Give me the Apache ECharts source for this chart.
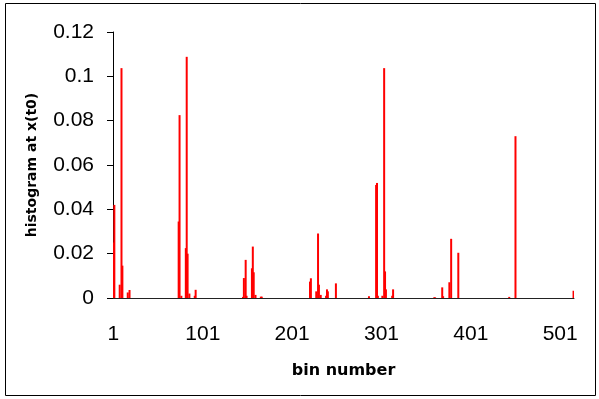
<!DOCTYPE html>
<html>
<head>
<meta charset="utf-8">
<script src="https://cdn.jsdelivr.net/npm/echarts@6/dist/echarts.min.js"></script>
<style>
    html, body { margin: 0; padding: 0; background: #fff; }
    #histCharts { width: 599px; height: 399px; }
</style>
</head>
<body>
<div id="histCharts"></div>
<script>
    // histogram at x(t0); bins not listed are 0
    const binCount = 516
    const spikeBins = [1, 2, 8, 10, 11, 17, 19,
        74, 75, 77, 82, 83, 84, 86, 92, 93,
        146, 147, 149, 150, 156, 157, 158, 160, 166, 167,
        221, 222, 228, 230, 231, 233, 239, 240, 241, 250,
        287, 295, 296, 297, 302, 304, 305, 306, 313, 314,
        360, 361, 369, 370, 377, 379, 387,
        444, 451, 516]
    const spikeValues = [0.025, 0.042, 0.006, 0.1037, 0.0146, 0.0025, 0.0036,
        0.0345, 0.0825, 0.001, 0.0225, 0.1088, 0.020, 0.002, 0.001, 0.0037,
        0.0005, 0.009, 0.0172, 0.001, 0.0134, 0.0232, 0.0116, 0.0014, 0.0006, 0.0006,
        0.0074, 0.0089, 0.003, 0.0291, 0.006, 0.0014, 0.001, 0.0039, 0.003, 0.0066,
        0.0008, 0.051, 0.0519, 0.001, 0.001, 0.1037, 0.012, 0.0039, 0.001, 0.0039,
        0.0003, 0.0003, 0.0048, 0.0008, 0.0071, 0.0267, 0.0204,
        0.0005, 0.073, 0.0033]
    const yTicks = [0, 0.02, 0.04, 0.06, 0.08, 0.1, 0.12]

    const bins = []
    const counts = []
    for (let i = 1; i <= binCount; i++) {
        bins.push(String(i))
        counts.push(0)
    }
    spikeBins.forEach((b, k) => { counts[b - 1] = spikeValues[k] })

    const _histCharts = {
        animation: false,
        grid: {
            left: 113,
            right: 25,
            top: 32,
            bottom: 101,
        },
        xAxis: {
            type: 'category',
            data: bins,
            name: 'bin number',
            nameLocation: 'middle',
            nameGap: 65,
            nameTextStyle: {
                fontFamily: 'DejaVu Sans',
                fontWeight: 'bold',
                fontSize: 16,
                color: '#000'
            },
            axisLine: {
                lineStyle: { color: '#222', width: 1 }
            },
            axisTick: { show: false },
            axisLabel: {
                interval: 99,
                margin: 26,
                fontFamily: 'Liberation Sans',
                fontSize: 21,
                color: '#000'
            },
        },
        yAxis: {
            type: 'value',
            min: yTicks[0],
            max: yTicks[yTicks.length - 1],
            interval: 0.02,
            name: 'histogram at x(t0)',
            nameLocation: 'middle',
            nameGap: 74,
            nameTextStyle: {
                fontFamily: 'DejaVu Sans',
                fontWeight: 'bold',
                fontSize: 14,
                color: '#000'
            },
            splitLine: { show: false },
            axisLine: {
                show: true,
                lineStyle: { color: '#000', width: 1 }
            },
            axisTick: {
                show: true,
                length: 6,
                lineStyle: { color: '#000' }
            },
            axisLabel: {
                margin: 19,
                padding: [5, 0, 0, 0],
                fontFamily: 'Liberation Sans',
                fontSize: 21,
                color: '#000'
            },
        },
        series: [
            {
                type: 'bar',
                data: counts,
                barWidth: 2,
                itemStyle: { color: '#ff0000' },
            },
        ],
        graphic: [
            {
                type: 'rect',
                shape: { x: 5.5, y: 3.5, width: 590, height: 392 },
                style: { fill: 'none', stroke: '#000', lineWidth: 1 },
                silent: true
            }
        ]
    }

    const histCharts = echarts.init(document.getElementById('histCharts'))
    histCharts.setOption(_histCharts)
</script>
</body>
</html>
